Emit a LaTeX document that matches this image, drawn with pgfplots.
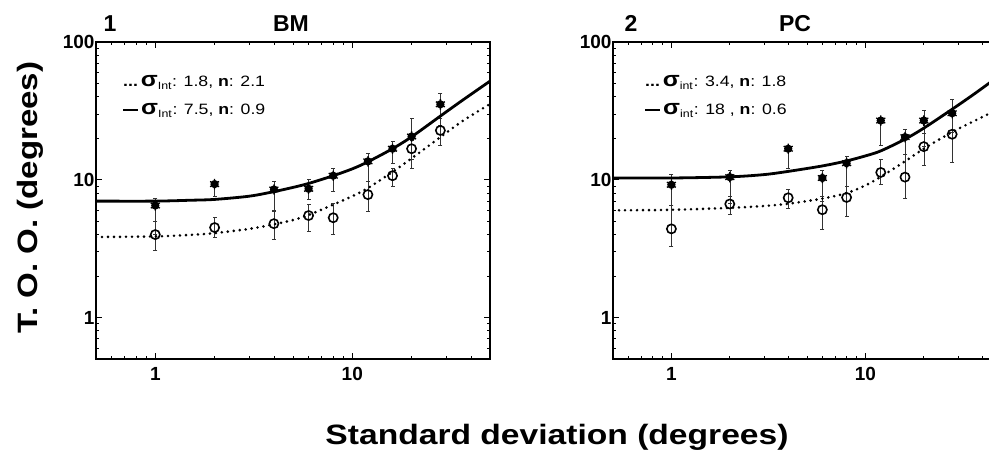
\documentclass[border=0pt]{standalone}
\usepackage{fontspec}
\setmainfont{Liberation Sans}
\usepackage{graphicx}
\usepackage{pgfplots}
\pgfplotsset{compat=1.18}

\pgfdeclareplotmark{blob}{%
  \pgfpathcircle{\pgfpointorigin}{0.8\pgfplotmarksize}%
  \pgfusepathqfill
  \pgfsetlinewidth{1.3pt}%
  \pgfpathmoveto{\pgfpointpolar{90}{\pgfplotmarksize}}\pgfpathlineto{\pgfpointpolar{270}{\pgfplotmarksize}}%
  \pgfpathmoveto{\pgfpointpolar{30}{\pgfplotmarksize}}\pgfpathlineto{\pgfpointpolar{210}{\pgfplotmarksize}}%
  \pgfpathmoveto{\pgfpointpolar{150}{\pgfplotmarksize}}\pgfpathlineto{\pgfpointpolar{330}{\pgfplotmarksize}}%
  \pgfusepathqstroke
}

\pgfplotsset{
  panel/.style={
    scale only axis, height=317pt,
    xmin=0.5, xmax=50, ymin=0.5, ymax=100,
    xtick={1,10}, xticklabels={\textbf{1},\textbf{10}},
    ytick={1,10,100}, yticklabels={\textbf{1},\textbf{10},\textbf{100}},
    minor xtick={0.6,0.7,0.8,0.9,2,3,4,5,6,7,8,9,20,30,40},
    minor ytick={0.6,0.7,0.8,0.9,2,3,4,5,6,7,8,9,20,30,40,50,60,70,80,90},
    tick align=inside, major tick length=6pt, minor tick length=3pt,
    axis line style={line width=1.8pt},
    every tick/.style={black, line width=0.8pt},
    ticklabel style={font=\fontsize{19}{22}\selectfont\bfseries},
    xticklabel style={yshift=-5pt},
    yticklabel style={xshift=2pt},
    clip mode=individual, anchor=south west,
  },
  ebar/.style={black!80, line width=0.55pt, mark=-, mark size=2pt, mark options={solid, line width=0.55pt}, unbounded coords=jump, forget plot},
  fitsolid/.style={black, line width=2.8pt, smooth, tension=0.5, no markers},
  fitdot/.style={black, line width=2.9pt, line cap=round, dash pattern=on 0pt off 6pt, smooth, tension=0.5, no markers},
  filledpts/.style={only marks, mark=blob, mark size=5.2pt, black},
  openpts/.style={only marks, mark=o, mark size=4.6pt, mark options={line width=1.6pt, black}},
}

\begin{document}
\begin{tikzpicture}
\useasboundingbox (0pt,0pt) rectangle (989pt,455pt);
\clip (0pt,0pt) rectangle (989pt,455pt);

% ---------------- Panel 1 : BM ----------------
\begin{loglogaxis}[panel, at={(96pt,96pt)}, width=394pt]
\addplot[ebar] coordinates {
(1,4.0)(1,7.4)(1,nan)(2,7.6)(2,9.7)(2,nan)(4,6.0)(4,9.8)(4,nan)
(6,7.2)(6,10.0)(6,nan)(8,8.2)(8,12.2)(8,nan)(12,9.7)(12,15.6)(12,nan)
(16,13.2)(16,18.9)(16,nan)(20,14)(20,28)(20,nan)(28,25)(28,42.5)};
\addplot[ebar] coordinates {
(1,3.1)(1,5.0)(1,nan)(2,3.8)(2,5.3)(2,nan)(4,3.7)(4,5.9)(4,nan)
(6,4.2)(6,6.6)(6,nan)(8,4.0)(8,6.7)(8,nan)(12,5.9)(12,9.7)(12,nan)
(16,8.9)(16,12.2)(16,nan)(20,12.2)(20,19.5)(20,nan)(28,17.9)(28,28)};
\addplot[fitsolid] coordinates {
(0.5,7.0)(1,7.0)(1.5,7.1)(2,7.2)(3,7.6)(4,8.2)(5,8.8)(6,9.4)(8,10.7)
(10,12.0)(12,13.5)(16,16.8)(20,20.5)(28,29.0)(36,37.5)(50,52)};
\addplot[fitdot] coordinates {
(0.5,3.84)(1,3.88)(1.5,3.98)(2,4.1)(3,4.4)(4,4.75)(5,5.1)(6,5.55)(8,6.6)
(10,7.6)(12,8.7)(16,11.4)(20,14.3)(28,20.4)(36,26.5)(50,35.5)};
\addplot[filledpts] coordinates {
(1,6.5)(2,9.3)(4,8.5)(6,8.6)(8,10.7)(12,13.6)(16,16.8)(20,20.6)(28,35.3)};
\addplot[openpts] coordinates {
(1,4.0)(2,4.5)(4,4.8)(6,5.5)(8,5.3)(12,7.8)(16,10.7)(20,16.8)(28,22.8)};
\end{loglogaxis}

% ---------------- Panel 2 : PC ----------------
\begin{loglogaxis}[panel, at={(613pt,96pt)}, width=388pt]
\addplot[ebar] coordinates {
(1,6.5)(1,10.9)(1,nan)(2,6.8)(2,11.7)(2,nan)(4,12.2)(4,16.8)(4,nan)
(6,7.0)(6,11.8)(6,nan)(8,8.0)(8,14.7)(8,nan)(12,17.9)(12,26.9)(12,nan)
(16,15.2)(16,23.1)(16,nan)(20,17.4)(20,32.2)(20,nan)(28,22)(28,38.4)};
\addplot[ebar] coordinates {
(1,3.3)(1,6.5)(1,nan)(2,5.6)(2,7.6)(2,nan)(4,6.2)(4,8.55)(4,nan)
(6,4.4)(6,7.6)(6,nan)(8,5.4)(8,8.9)(8,nan)(12,9.2)(12,14.1)(12,nan)
(16,7.4)(16,15.2)(16,nan)(20,12.8)(20,21.8)(20,nan)(28,13.4)(28,29.6)};
\addplot[fitsolid] coordinates {
(0.5,10.3)(1,10.3)(2,10.5)(3,10.9)(4,11.5)(6,12.6)(8,13.7)(10,14.9)
(12,16.2)(16,19.7)(20,23.7)(28,32.5)(36,41.5)(44.6,51.6)(50,57.5)};
\addplot[fitdot] coordinates {
(0.5,6.0)(1,6.05)(2,6.25)(3,6.45)(4,6.7)(6,7.3)(8,8.0)(10,9.1)
(12,10.5)(16,13.6)(20,16.8)(28,22.2)(36,26.5)(44.6,30.7)(50,32.8)};
\addplot[filledpts] coordinates {
(1,9.2)(2,10.45)(4,16.8)(6,10.3)(8,13.2)(12,26.9)(16,20.4)(20,26.9)(28,30.4)};
\addplot[openpts] coordinates {
(1,4.4)(2,6.67)(4,7.4)(6,6.06)(8,7.44)(12,11.3)(16,10.45)(20,17.4)(28,21.4)};
\end{loglogaxis}

% ---------------- Titles ----------------
\begin{scope}[every node/.style={anchor=base, inner sep=0pt, font=\fontsize{23}{26}\selectfont\bfseries}]
\node at (110pt,423pt) {1};
\node at (291pt,423pt) {BM};
\node at (631pt,423pt) {2};
\node at (795pt,423pt) {PC};
\end{scope}

% ---------------- Legends ----------------
\begin{scope}[every node/.style={anchor=base west, inner sep=0pt, font=\fontsize{15}{18}\selectfont}]
\node at (123pt,368pt) {\scalebox{1.18}[1]{\textbf{...}\,{\fontsize{21}{22}\selectfont\bfseries σ}\textsubscript{Int}: 1.8, \textbf{n}: 2.1}};
\node at (123pt,340pt) {\scalebox{1.18}[1]{\rule[0.28em]{0.85em}{0.13em}\,{\fontsize{21}{22}\selectfont\bfseries σ}\textsubscript{Int}: 7.5, \textbf{n}: 0.9}};
\node at (645pt,368pt) {\scalebox{1.18}[1]{\textbf{...}\,{\fontsize{21}{22}\selectfont\bfseries σ}\textsubscript{int}: 3.4, \textbf{n}: 1.8}};
\node at (645pt,340pt) {\scalebox{1.18}[1]{\rule[0.28em]{0.85em}{0.13em}\,{\fontsize{21}{22}\selectfont\bfseries σ}\textsubscript{int}: 18 , \textbf{n}: 0.6}};
\end{scope}

% ---------------- Axis labels ----------------
\node[rotate=90, inner sep=0pt, font=\fontsize{28}{32}\selectfont\bfseries] at (30pt,257.5pt) {\scalebox{1.18}[1]{T. O. O. (degrees)}};
\node[anchor=base, inner sep=0pt, font=\fontsize{28}{32}\selectfont\bfseries] at (557pt,10pt) {\scalebox{1.2}[1]{Standard deviation (degrees)}};
\end{tikzpicture}
\end{document}
